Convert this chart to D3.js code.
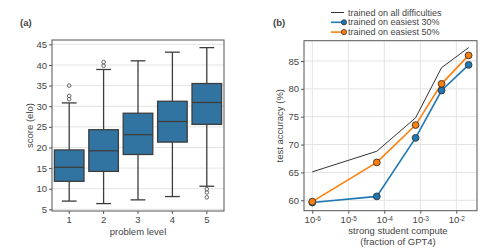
<!DOCTYPE html>
<html>
<head>
<meta charset="utf-8">
<script src="https://cdn.jsdelivr.net/npm/d3@7"></script>
<style>
  body { margin: 0; background: #fff; }
  text { font-family: "Liberation Sans", "DejaVu Sans", sans-serif; fill: #444; }
</style>
</head>
<body>
<svg id="chart" width="495" height="252"></svg>
<script>
// panel (a): box plot of score per problem level
const levels = [1, 2, 3, 4, 5];
const whiskLo = [7.0, 6.4, 7.3, 8.1, 10.6];
const q1 = [11.8, 14.2, 18.3, 21.3, 25.6];
const med = [15.2, 19.2, 23.1, 26.3, 30.9];
const q3 = [19.4, 24.3, 28.3, 31.2, 35.5];
const whiskHi = [30.8, 38.9, 41.0, 43.1, 44.2];
const outliers = [[31.7, 32.5, 35.0], [39.8, 40.7], [], [], [9.9, 9.1, 7.9]];
const scoreTicks = [5, 10, 15, 20, 25, 30, 35, 40, 45];

// panel (b): accuracy vs compute
const compute = [1e-6, 6.2e-5, 7.4e-4, 3.9e-3, 0.022];
const accAll = [65.1, 68.8, 74.8, 83.8, 87.4];
const acc30 = [59.6, 60.7, 71.2, 79.7, 84.3];
const acc50 = [59.75, 66.8, 73.5, 80.9, 86.0];
const accTicks = [60, 65, 70, 75, 80, 85];
const computeTicks = [1e-6, 1e-5, 1e-4, 1e-3, 1e-2];
const seriesNames = ["trained on all difficulties", "trained on easiest 30%", "trained on easiest 50%"];

const svg = d3.select("#chart");
const frameColor = "#555", gridColor = "#e3e3e3";

// ---------- panel (a) ----------
let a = { l: 52, r: 224, t: 40, b: 211 };
let xA = d3.scaleBand().domain(levels).range([a.l, a.r]).paddingInner(0).paddingOuter(0);
let yA = d3.scaleLinear().domain([4.6, 46.05]).range([a.b, a.t]);

let gA = svg.append("g");
gA.selectAll(".grid").data(scoreTicks).enter().append("line")
    .attr("x1", a.l).attr("x2", a.r)
    .attr("y1", d => yA(d)).attr("y2", d => yA(d))
    .attr("stroke", gridColor).attr("stroke-width", 1);

let boxW = xA.bandwidth() * 0.86;
let boxes = gA.selectAll(".box").data(levels).enter().append("g");
boxes.each(function (lv, i) {
    let g = d3.select(this);
    let cx = xA(lv) + xA.bandwidth() / 2;
    // whiskers
    g.append("line").attr("x1", cx).attr("x2", cx).attr("y1", yA(whiskLo[i])).attr("y2", yA(q1[i]))
        .attr("stroke", "#3d3d3d").attr("stroke-width", 1.3);
    g.append("line").attr("x1", cx).attr("x2", cx).attr("y1", yA(q3[i])).attr("y2", yA(whiskHi[i]))
        .attr("stroke", "#3d3d3d").attr("stroke-width", 1.3);
    [whiskLo[i], whiskHi[i]].forEach(v => {
        g.append("line").attr("x1", cx - boxW / 4).attr("x2", cx + boxW / 4)
            .attr("y1", yA(v)).attr("y2", yA(v))
            .attr("stroke", "#3d3d3d").attr("stroke-width", 1.3);
    });
    g.append("rect").attr("x", cx - boxW / 2).attr("width", boxW)
        .attr("y", yA(q3[i])).attr("height", yA(q1[i]) - yA(q3[i]))
        .attr("fill", "#3274a1").attr("stroke", "#3d3d3d").attr("stroke-width", 1.3);
    g.append("line").attr("x1", cx - boxW / 2).attr("x2", cx + boxW / 2)
        .attr("y1", yA(med[i])).attr("y2", yA(med[i]))
        .attr("stroke", "#3d3d3d").attr("stroke-width", 1.3);
    g.selectAll("circle").data(outliers[i]).enter().append("circle")
        .attr("cx", cx).attr("cy", d => yA(d)).attr("r", 1.8)
        .attr("fill", "none").attr("stroke", "#555").attr("stroke-width", 0.9);
});

gA.append("rect").attr("x", a.l).attr("y", a.t).attr("width", a.r - a.l).attr("height", a.b - a.t)
    .attr("fill", "none").attr("stroke", frameColor).attr("stroke-width", 1);

let axA = gA.append("g").attr("transform", `translate(${a.l},0)`)
    .call(d3.axisLeft(yA).tickValues(scoreTicks).tickSize(3).tickPadding(2));
let axAx = gA.append("g").attr("transform", `translate(0,${a.b})`)
    .call(d3.axisBottom(xA).tickSize(3).tickPadding(2));
[axA, axAx].forEach(ax => {
    ax.select(".domain").remove();
    ax.selectAll("line").attr("stroke", frameColor);
    ax.selectAll("text").style("font-size", "9.5px").attr("fill", "#444");
});

gA.append("text").attr("x", 20).attr("y", 26).text("(a)")
    .style("font-size", "9.5px").style("font-weight", "bold").attr("fill", "#333");
gA.append("text").attr("transform", `translate(30,${(a.t + a.b) / 2}) rotate(-90)`)
    .attr("text-anchor", "middle").attr("dy", "0.35em").text("score (elo)").style("font-size", "9.5px");
gA.append("text").attr("x", (a.l + a.r) / 2).attr("y", 235).attr("text-anchor", "middle")
    .text("problem level").style("font-size", "9.5px");

// ---------- panel (b) ----------
let b = { l: 304, r: 477, t: 40.7, b: 210.7 };
let xB = d3.scaleLog().domain([Math.pow(10, -6.23), Math.pow(10, -1.425)]).range([b.l, b.r]);
let yB = d3.scaleLinear().domain([58.13, 88.64]).range([b.b, b.t]);

let gB = svg.append("g");
gB.selectAll(".gy").data(accTicks).enter().append("line")
    .attr("x1", b.l).attr("x2", b.r).attr("y1", d => yB(d)).attr("y2", d => yB(d))
    .attr("stroke", gridColor).attr("stroke-width", 1);
gB.selectAll(".gx").data(computeTicks).enter().append("line")
    .attr("y1", b.t).attr("y2", b.b).attr("x1", d => xB(d)).attr("x2", d => xB(d))
    .attr("stroke", gridColor).attr("stroke-width", 1);

let line = d3.line().x(d => xB(d[0])).y(d => yB(d[1]));
gB.append("path").datum(d3.zip(compute, accAll)).attr("d", line)
    .attr("fill", "none").attr("stroke", "#333").attr("stroke-width", 1);

let series = [{ v: acc30, c: "#1f77b4" }, { v: acc50, c: "#ff7f0e" }];
series.forEach(s => {
    let pts = d3.zip(compute, s.v);
    gB.append("path").datum(pts).attr("d", line)
        .attr("fill", "none").attr("stroke", s.c).attr("stroke-width", 1.6);
});
series.forEach(s => {
    let pts = d3.zip(compute, s.v);
    gB.selectAll(null).data(pts).enter().append("circle")
        .attr("cx", d => xB(d[0])).attr("cy", d => yB(d[1])).attr("r", 3.4)
        .attr("fill", s.c).attr("stroke", "#333").attr("stroke-width", 0.9);
});

gB.append("rect").attr("x", b.l).attr("y", b.t).attr("width", b.r - b.l).attr("height", b.b - b.t)
    .attr("fill", "none").attr("stroke", frameColor).attr("stroke-width", 1);

let axBy = gB.append("g").attr("transform", `translate(${b.l},0)`)
    .call(d3.axisLeft(yB).tickValues(accTicks).tickSize(3).tickPadding(2));
let axBx = gB.append("g").attr("transform", `translate(0,${b.b})`)
    .call(d3.axisBottom(xB).tickValues(computeTicks).tickSize(3).tickPadding(3).tickFormat(() => ""));
[axBy, axBx].forEach(ax => {
    ax.select(".domain").remove();
    ax.selectAll("line").attr("stroke", frameColor);
    ax.selectAll("text").style("font-size", "9.5px").attr("fill", "#444");
});
// 10^k labels with superscripts
axBx.selectAll(".tick text").each(function (d) {
    let t = d3.select(this);
    t.append("tspan").text("10");
    t.append("tspan").attr("dy", "-0.45em").style("font-size", "6.5px").text(Math.round(Math.log10(d)));
});

gB.append("text").attr("x", 273).attr("y", 26).text("(b)")
    .style("font-size", "9.5px").style("font-weight", "bold").attr("fill", "#333");
gB.append("text").attr("transform", `translate(280,${(b.t + b.b) / 2}) rotate(-90)`)
    .attr("text-anchor", "middle").attr("dy", "0.35em").text("test accuracy (%)").style("font-size", "9.5px");
gB.append("text").attr("x", 398).attr("y", 234).attr("text-anchor", "middle")
    .text("strong student compute").style("font-size", "9.5px");
gB.append("text").attr("x", 398).attr("y", 245).attr("text-anchor", "middle")
    .text("(fraction of GPT4)").style("font-size", "9.5px");

// legend
let legColors = ["#333", "#1f77b4", "#ff7f0e"];
let leg = gB.selectAll(".leg").data(seriesNames).enter().append("g")
    .attr("transform", (d, i) => `translate(331,${12.5 + i * 9.8})`);
leg.append("line").attr("x1", 0).attr("x2", 13).attr("y1", 0).attr("y2", 0)
    .attr("stroke", (d, i) => legColors[i]).attr("stroke-width", (d, i) => i ? 1.6 : 1);
leg.filter((d, i) => i > 0).append("circle").attr("cx", 13).attr("cy", 0).attr("r", 2.6)
    .attr("fill", (d, i) => legColors[i + 1]).attr("stroke", "#333").attr("stroke-width", 0.8);
leg.append("text").attr("x", 17).attr("dy", "0.35em").text(d => d)
    .style("font-size", "9px").attr("fill", "#333");
</script>
</body>
</html>
